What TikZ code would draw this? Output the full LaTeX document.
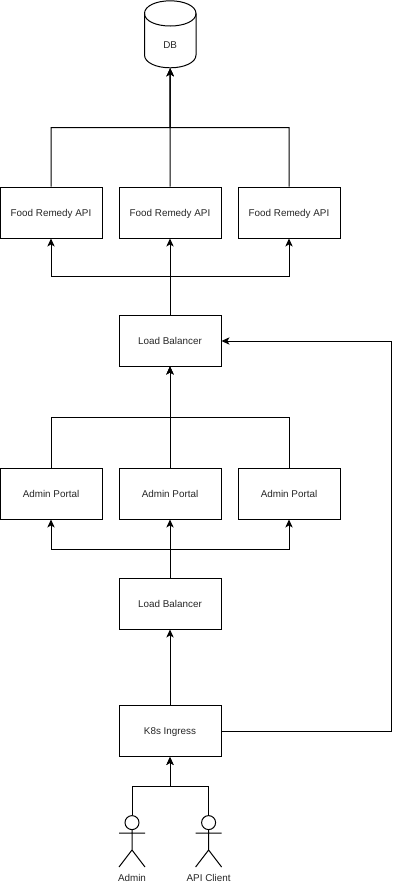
\documentclass[tikz,border=0pt]{standalone}
\usepackage{fontspec}
\setmainfont{Liberation Sans}
\usetikzlibrary{arrows.meta,calc}
\tikzset{
  txt/.style={font=\fontsize{7.4pt}{9pt}\selectfont,text=black!85,text height=5.3pt,text depth=0pt},
  box/.style={txt,draw,line width=0.75pt,minimum width=76.5pt,minimum height=38.25pt,inner sep=0pt},
  conn/.style={draw,line width=0.75pt,-{Stealth[length=6pt,width=5.5pt,inset=1.6pt]}},
  plain/.style={draw,line width=0.75pt},
  lbl/.style={txt,inner sep=0pt},
  head/.style={circle,draw,line width=0.75pt,minimum size=10.5pt,inner sep=0pt}
}
\begin{document}
\begin{tikzpicture}[x=0.75pt,y=-0.75pt]
\useasboundingbox (0,0) rectangle (400,886);
% database
\node[lbl,minimum width=38.6pt,minimum height=34.5pt] (db) at (170.2,45) {DB};
\draw[line width=0.75pt] (144.5,13.5) .. controls (144.5,6) and (156,0.8) .. (170.2,0.8)
  .. controls (184.4,0.8) and (196,6) .. (196,13.5) -- (196,55)
  .. controls (196,62.5) and (184.4,67.8) .. (170.2,67.8)
  .. controls (156,67.8) and (144.5,62.5) .. (144.5,55) -- cycle;
\draw[line width=0.75pt] (144.5,13.5) .. controls (144.5,21) and (156,26) .. (170.2,26)
  .. controls (184.4,26) and (196,21) .. (196,13.5);
% boxes
\node[box] (f1) at (51,212.5) {Food Remedy API};
\node[box] (f2) at (170,212.5) {Food Remedy API};
\node[box] (f3) at (289,212.5) {Food Remedy API};
\node[box] (lb1) at (170,340.5) {Load Balancer};
\node[box] (a1) at (51,493.5) {Admin Portal};
\node[box] (a2) at (170,493.5) {Admin Portal};
\node[box] (a3) at (289,493.5) {Admin Portal};
\node[box] (lb2) at (170,603.5) {Load Balancer};
\node[box] (ing) at (170,731) {K8s Ingress};
% actors
\node[head] (h1) at (132,822.6) {};
\node[head] (h2) at (208.6,822.6) {};
\node[lbl] (t1) at (132,878) {Admin};
\node[lbl] (t2) at (208.6,878) {API Client};
\foreach \h in {h1,h2}{
  \draw[line width=0.75pt] (\h.south) -- ($(\h)+(0,27.4)$) coordinate (\h b)
    ($(\h)+(-13,10.4)$) -- ($(\h)+(13,10.4)$)
    ($(\h b)+(-13,17)$) -- (\h b) -- ($(\h b)+(13,17)$);
}
% connectors
\coordinate (j1) at (170,127.5);
\coordinate (j2) at (170,276.5);
\coordinate (j3) at (170,417);
\coordinate (j4) at (170,549);
\coordinate (j5) at (170,786.5);
\coordinate (r1) at (391,731);
\coordinate (r2) at (391,341);
\draw[conn] (f2.north) -- (db.south);
\draw[conn] (f1.north) |- (j1) -- (db.south);
\draw[conn] (f3.north) |- (j1) -- (db.south);
\draw[conn] (lb1.north) -- (f2.south);
\draw[conn] (lb1.north) -- (j2) -| (f1.south);
\draw[conn] (lb1.north) -- (j2) -| (f3.south);
\draw[conn] (a2.north) -- (lb1.south);
\draw[conn] (a1.north) |- (j3) -- (lb1.south);
\draw[conn] (a3.north) |- (j3) -- (lb1.south);
\draw[conn] (lb2.north) -- (a2.south);
\draw[conn] (lb2.north) -- (j4) -| (a1.south);
\draw[conn] (lb2.north) -- (j4) -| (a3.south);
\draw[conn] (ing.north) -- (lb2.south);
\draw[conn] (ing.east) -- (r1) -- (r2) -- (lb1.east |- r2);
\draw[conn] (h1.north) |- (j5) -- (ing.south);
\draw[conn] (h2.north) |- (j5) -- (ing.south);
\end{tikzpicture}
\end{document}
